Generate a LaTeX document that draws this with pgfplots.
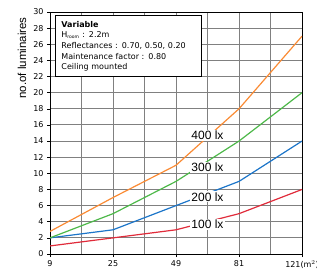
\documentclass[border=0pt]{standalone}
\usepackage{pgfplots}
\pgfplotsset{compat=1.18}
\usepackage{fontspec}
\setmainfont{DejaVu Sans}
\newfontfamily\arial{Liberation Sans}
\definecolor{orangeC}{HTML}{FA8B34}
\definecolor{greenC}{HTML}{4DB849}
\definecolor{blueC}{HTML}{1C75C9}
\definecolor{redC}{HTML}{E02B3A}
\definecolor{gridC}{HTML}{808080}
\begin{document}
\begin{tikzpicture}
\begin{axis}[
  scale only axis, width=252pt, height=242pt,
  xmin=0, xmax=4, ymin=0, ymax=30,
  xtick={0,1,2,3,4}, xticklabels={9,25,49,81,121(m$^2$)},
  minor xtick={0.5,1.5,2.5,3.5},
  ytick={0,2,...,30},
  grid=both,
  major grid style={gridC, line width=0.9pt},
  minor grid style={gridC, line width=0.9pt},
  axis line style={black, line width=0.8pt},
  tick style={black, line width=0.6pt},
  tick align=outside, major tick length=3pt, minor tick length=0pt,
  xtick pos=bottom, ytick pos=left,
  /pgf/number format/assume math mode=true,
  ticklabel style={font=\fontsize{8}{9.5}\selectfont},
  ylabel={\arial\fontsize{11.5}{13}\selectfont no.of luminaires},
  ylabel style={at={(axis description cs:-0.111,0.81)}, anchor=center},
]
\addplot[redC, line width=1.2pt] coordinates {(0,1)(1,2)(2,3)(3,5)(4,8)};
\addplot[blueC, line width=1.2pt] coordinates {(0,2)(1,3)(2,6)(3,9)(4,14)};
\addplot[greenC, line width=1.2pt] coordinates {(0,2)(1,5)(2,9)(3,14)(4,20)};
\addplot[orangeC, line width=1.2pt] coordinates {(0,2.8)(1,7)(2,11)(3,18)(4,27)};
\node[fill=white, inner sep=1pt, font=\arial\fontsize{12}{13}\selectfont] at (axis cs:2.5,14.7) {400 lx};
\node[fill=white, inner sep=1pt, font=\arial\fontsize{12}{13}\selectfont] at (axis cs:2.5,10.7) {300 lx};
\node[fill=white, inner sep=1pt, font=\arial\fontsize{12}{13}\selectfont] at (axis cs:2.5,7.1) {200 lx};
\node[fill=white, inner sep=1pt, font=\arial\fontsize{12}{13}\selectfont] at (axis cs:2.5,3.7) {100 lx};
\node[draw=black, line width=0.8pt, fill=white, anchor=north west, align=left,
      text width=134pt, inner xsep=6pt, inner ysep=5.5pt,
      font=\fontsize{8}{10.6}\selectfont] at (axis cs:0.08,29.6)
  {\textbf{Variable}\\
   H\textsubscript{\fontsize{4.5}{5}\selectfont room} : 2.2m\\
   Reflectances : 0.70, 0.50, 0.20\\
   Maintenance factor : 0.80\\
   Ceiling mounted};
\coordinate (sw) at (rel axis cs:0,0);
\coordinate (ne) at (rel axis cs:1,1);
\end{axis}
\pgfresetboundingbox
\path ([xshift=-50pt,yshift=-19pt]sw) rectangle ([xshift=15pt,yshift=12pt]ne);
\end{tikzpicture}
\end{document}
